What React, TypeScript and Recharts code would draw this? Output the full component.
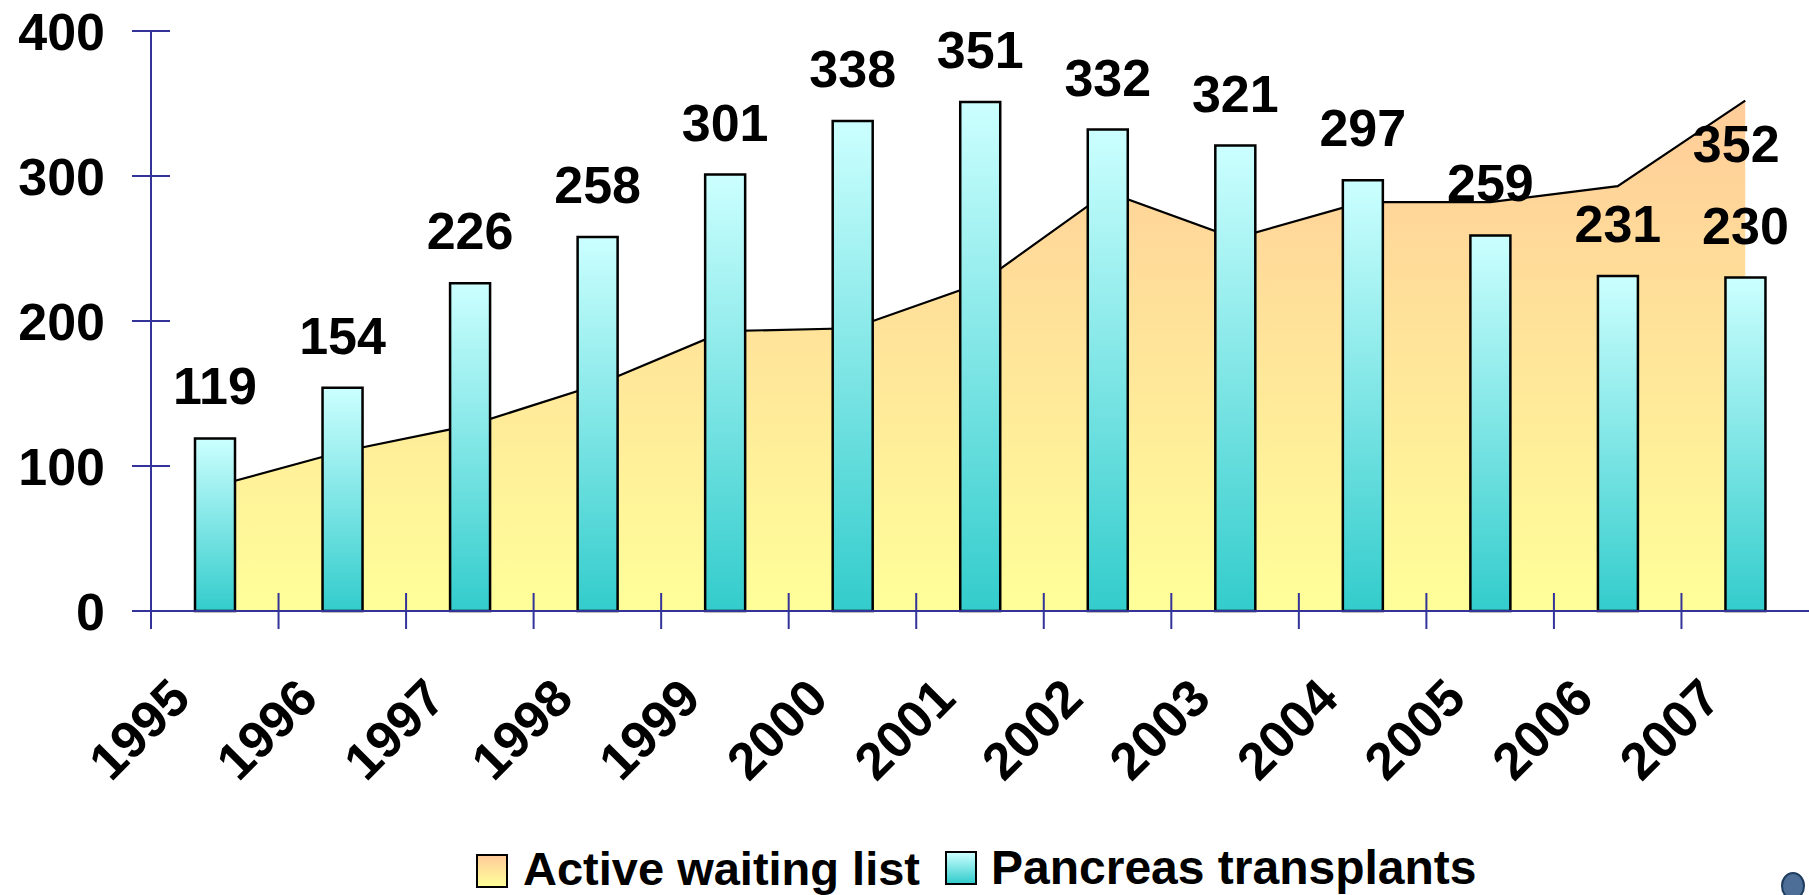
import React from 'react';
import { ComposedChart, Area, Bar, XAxis, YAxis, Legend, LabelList } from 'recharts';

// values
const years = ['1995', '1996', '1997', '1998', '1999', '2000', '2001', '2002', '2003', '2004', '2005', '2006', '2007'];
const waitingList = [86, 110, 128, 156, 193, 195, 226, 289, 257, 282, 282, 293, 352];
const transplants = [119, 154, 226, 258, 301, 338, 351, 332, 321, 297, 259, 231, 230];
const yTicks = [0, 100, 200, 300, 400];

const data = years.map((year, i) => ({ year, waiting: waitingList[i], transplants: transplants[i] }));

const W = 1809;
const H = 895;
const Y_AXIS_W = 151;
const MARGIN = { top: 31, right: 0, bottom: 0, left: 0 };
const BAND = (W - Y_AXIS_W - MARGIN.left - MARGIN.right) / years.length;
const AXIS = '#333399';
const FONT = '"Liberation Sans", Arial, sans-serif';

const YTick = ({ x, y, payload }: any) => (
  <g>
    <line x1={x - 19} x2={x + 19} y1={y} y2={y} stroke={AXIS} strokeWidth={2} />
    <text x={x - 46} y={y} dy="0.36em" textAnchor="end" fontFamily={FONT} fontWeight={700} fontSize={52} fill="#000">
      {payload.value}
    </text>
  </g>
);

const XTick = ({ x, y, payload }: any) => (
  <g>
    <line x1={x - BAND / 2} x2={x - BAND / 2} y1={y - 18} y2={y + 18} stroke={AXIS} strokeWidth={2} />
    <text
      transform={`translate(${x - 22},${y + 90}) rotate(-45)`}
      textAnchor="end"
      fontFamily={FONT}
      fontWeight={700}
      fontSize={52}
      fill="#000"
    >
      {payload.value}
    </text>
  </g>
);

const LegendBox = ({ bg }: { bg: string }) => (
  <span style={{ display: 'inline-block', width: 28, height: 30, border: '2px solid #000', background: bg, marginTop: 6 }} />
);

const LegendContent = () => (
  <div style={{ display: 'flex', alignItems: 'center', fontFamily: FONT, fontWeight: 700, fontSize: 47, lineHeight: 1, color: '#000', whiteSpace: 'nowrap' }}>
    <LegendBox bg="linear-gradient(#ffcc99, #ffff99)" />
    <span style={{ marginLeft: 15 }}>Active waiting list</span>
    <span style={{ marginLeft: 25 }}><LegendBox bg="linear-gradient(#ccffff, #33cccc)" /></span>
    <span style={{ marginLeft: 14, fontSize: 48 }}>Pancreas transplants</span>
  </div>
);

export default function App() {
  return (
    <div style={{ position: 'absolute', left: 0, top: 0, width: W, height: H, background: '#fff', overflow: 'hidden' }}>
      <ComposedChart width={W} height={H} data={data} margin={MARGIN}>
        <defs>
          <linearGradient id="barGrad" x1="0" y1="0" x2="0" y2="1">
            <stop offset="0%" stopColor="#ccffff" />
            <stop offset="100%" stopColor="#33cccc" />
          </linearGradient>
          <linearGradient id="areaGrad" x1="0" y1="0" x2="0" y2="1">
            <stop offset="0%" stopColor="#ffcc99" />
            <stop offset="100%" stopColor="#ffff99" />
          </linearGradient>
        </defs>
        <XAxis
          dataKey="year"
          height={284}
          axisLine={{ stroke: AXIS, strokeWidth: 2 }}
          tickLine={false}
          tickSize={0}
          tickMargin={0}
          interval={0}
          tick={XTick}
        />
        <YAxis
          width={Y_AXIS_W}
          domain={[0, 400]}
          ticks={yTicks}
          axisLine={{ stroke: AXIS, strokeWidth: 2 }}
          tickLine={false}
          tickSize={0}
          tickMargin={0}
          tick={YTick}
        />
        <Area
          type="linear"
          dataKey="waiting"
          name="Active waiting list"
          stroke="#000"
          strokeWidth={2.2}
          fill="url(#areaGrad)"
          fillOpacity={1}
          dot={false}
          activeDot={false}
          isAnimationActive={false}
        >
          <LabelList
            dataKey="waiting"
            content={({ x, y, value, index }: any) => {
              if (index !== waitingList.length - 1) return null;
              return (
                <text x={Number(x) - 9} y={Number(y) + 61} textAnchor="middle" fontFamily={FONT} fontWeight={700} fontSize={52} fill="#000">
                  {value}
                </text>
              );
            }}
          />
        </Area>
        <Bar
          dataKey="transplants"
          name="Pancreas transplants"
          fill="url(#barGrad)"
          stroke="#000"
          strokeWidth={2.5}
          barSize={40}
          isAnimationActive={false}
        >
          <LabelList
            dataKey="transplants"
            content={({ x, y, width, value }: any) => (
              <text x={Number(x) + Number(width) / 2} y={Number(y) - 34} textAnchor="middle" fontFamily={FONT} fontWeight={700} fontSize={52} fill="#000">
                {value}
              </text>
            )}
          />
        </Bar>
        <Legend
          layout="horizontal"
          verticalAlign="middle"
          align="center"
          wrapperStyle={{ left: 476, top: 844, width: 1100 }}
          content={() => <LegendContent />}
        />
      </ComposedChart>
      <div style={{ position: 'absolute', left: 1781, top: 872, width: 20, height: 24, borderRadius: '50%', background: '#4d6e96', border: '2px solid #1f3d5f' }} />
    </div>
  );
}
